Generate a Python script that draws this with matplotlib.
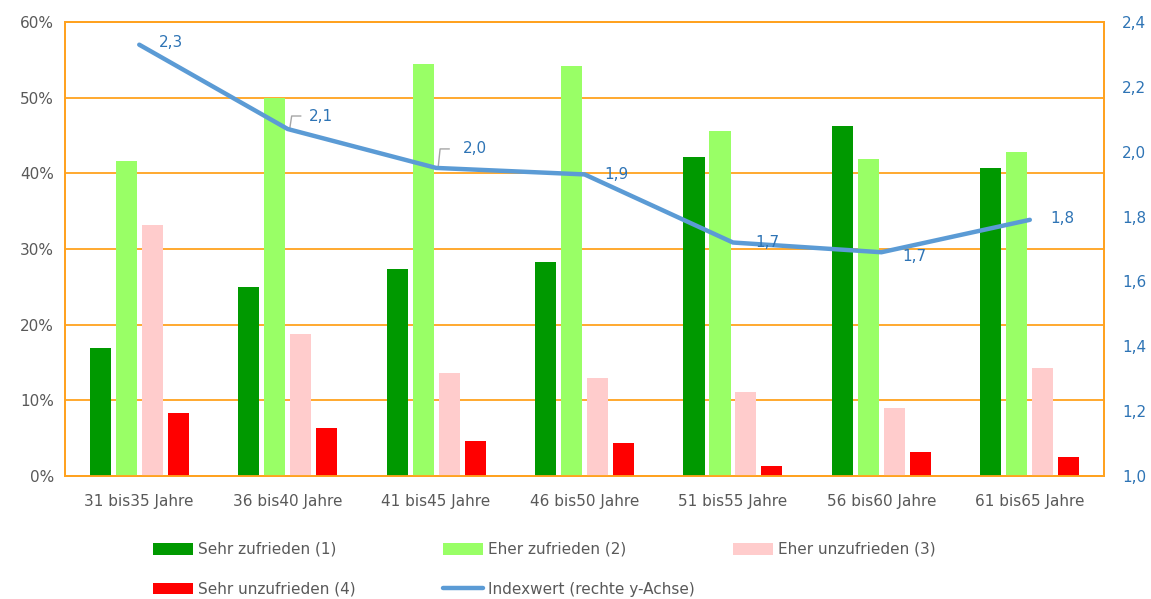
import matplotlib
matplotlib.use("Agg")
import matplotlib.pyplot as plt
import numpy as np
from matplotlib.ticker import FuncFormatter, MultipleLocator

categories = ["31 bis35 Jahre", "36 bis40 Jahre", "41 bis45 Jahre", "46 bis50 Jahre",
              "51 bis55 Jahre", "56 bis60 Jahre", "61 bis65 Jahre"]
sehr_zufrieden = [16.9, 25.0, 27.3, 28.3, 42.1, 46.2, 40.7]
eher_zufrieden = [41.6, 49.9, 54.4, 54.2, 45.6, 41.9, 42.8]
eher_unzufrieden = [33.2, 18.8, 13.6, 12.9, 11.1, 9.0, 14.3]
sehr_unzufrieden = [8.3, 6.3, 4.6, 4.4, 1.3, 3.2, 2.5]
indexwert = [2.33, 2.07, 1.95, 1.93, 1.72, 1.69, 1.79]
index_labels = ["2,3", "2,1", "2,0", "1,9", "1,7", "1,7", "1,8"]

series_names = ["Sehr zufrieden (1)", "Eher zufrieden (2)", "Eher unzufrieden (3)",
                "Sehr unzufrieden (4)"]
series_colors = ["#009900", "#99FF66", "#FFCCCC", "#FF0000"]
line_name = "Indexwert (rechte y-Achse)"
line_color = "#5B9BD5"
grid_color = "#FFA21F"
text_gray = "#595959"
blue_text = "#2E74B5"

plt.rcParams['font.family'] = ['DejaVu Sans']

fig = plt.figure(figsize=(11.51, 5.99), dpi=100)
ax = fig.add_axes([0.0565, 0.2053, 0.9592 - 0.0565, 0.9633 - 0.2053])
ax2 = ax.twinx()

x = np.arange(len(categories))
slot = 0.175
bw = 0.142
series = [sehr_zufrieden, eher_zufrieden, eher_unzufrieden, sehr_unzufrieden]
bars = []
for i, (vals, col, name) in enumerate(zip(series, series_colors, series_names)):
    b = ax.bar(x + (i - 1.5) * slot, vals, bw, color=col, label=name, zorder=3)
    bars.append(b)

ax.set_xlim(-0.5, len(categories) - 0.5)
ax.set_ylim(0, 60)
ax.yaxis.set_major_locator(MultipleLocator(10))
ax.yaxis.set_major_formatter(FuncFormatter(lambda v, p: f"{int(v)}%"))
ax.grid(axis='y', color=grid_color, linewidth=1.3, zorder=0)
ax.set_axisbelow(True)
ax.set_xticks(x)
ax.set_xticklabels(categories)
ax.tick_params(axis='x', length=0, pad=13, labelsize=11, labelcolor=text_gray)
ax.tick_params(axis='y', length=0, pad=8, labelsize=11, labelcolor=text_gray)

line, = ax2.plot(x, indexwert, color=line_color, linewidth=3.2, label=line_name,
                 zorder=5, solid_capstyle='round')
ax2.set_ylim(1.0, 2.4)
ax2.yaxis.set_major_locator(MultipleLocator(0.2))
ax2.yaxis.set_major_formatter(FuncFormatter(lambda v, p: f"{v:.1f}".replace(".", ",")))
ax2.tick_params(axis='y', length=0, pad=13, labelsize=11, labelcolor=blue_text)

for a in (ax, ax2):
    for s in a.spines.values():
        s.set_color(grid_color)
        s.set_linewidth(1.3)
ax.set_zorder(ax2.get_zorder() - 1)
ax2.patch.set_visible(False)
ax.patch.set_visible(True)

# data label offsets in pixels (dx, dy) relative to the point
offsets = [(32, 2), (33, 13), (39, 19), (32, 0), (34, 0), (33, -4), (33, 1)]
leaders = [False, True, True, False, False, False, False]
for xi, yi, lab, (dx, dy), lead in zip(x, indexwert, index_labels, offsets, leaders):
    ax2.annotate(lab, xy=(xi, yi), xytext=(dx * 0.72, dy * 0.72), textcoords='offset points',
                 ha='center', va='center', fontsize=11, color=blue_text, zorder=6)
    if lead:
        px, py = ax2.transData.transform((xi, yi))
        pts = [(px + 2, py), (px + 4, py + dy), (px + 13, py + dy)]
        inv = ax2.transData.inverted()
        dpts = inv.transform(pts)
        ax2.plot(dpts[:, 0], dpts[:, 1], color="#A6A6A6", linewidth=1.0, zorder=4)

# legend, three columns placed manually
handle_kw = dict(frameon=False, fontsize=11, handlelength=2.65, handleheight=0.8,
                 handletextpad=0.3, labelspacing=1.62, labelcolor=text_gray,
                 borderaxespad=0, borderpad=0)
top = 1 - 542 / 599
col1 = fig.legend([bars[0], bars[3]], [series_names[0], series_names[3]],
                  loc='upper left', bbox_to_anchor=(153 / 1151, top), **handle_kw)
col2 = fig.legend([bars[1], line], [series_names[1], line_name],
                  loc='upper left', bbox_to_anchor=(443 / 1151, top), **handle_kw)
col3 = fig.legend([bars[2]], [series_names[2]],
                  loc='upper left', bbox_to_anchor=(733 / 1151, top), **handle_kw)

fig.savefig("out.png", dpi=100, facecolor="white")
